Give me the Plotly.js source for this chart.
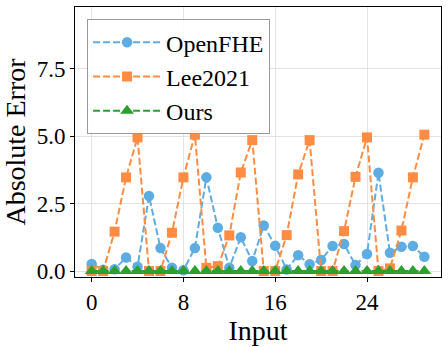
<!DOCTYPE html>
<html>
<head>
<meta charset="utf-8">
<script src="https://cdn.plot.ly/plotly-3.0.1.min.js"></script>
<style>html,body{margin:0;padding:0;background:#fff}#chart{width:448px;height:347px}</style>
</head>
<body>
<div id="chart"></div>
<script>
const inputs = [0,1,2,3,4,5,6,7,8,9,10,11,12,13,14,15,16,17,18,19,20,21,22,23,24,25,26,27,28,29];
const openfhe = [0.26,0.05,0.07,0.50,0.16,2.78,0.85,0.12,0.03,0.85,3.47,1.60,0.12,1.25,0.37,1.69,0.94,0.06,0.59,0.25,0.41,0.93,1.00,0.22,0.63,3.64,0.68,0.90,0.93,0.53];
const lee2021 = [0.0,0.0,1.46,3.47,4.95,0.0,0.0,1.42,3.47,5.05,0.12,0.18,1.32,3.65,4.85,0.0,0.0,1.33,3.58,4.85,0.0,0.0,1.48,3.49,4.95,0.0,0.10,1.50,3.47,5.05];
const ours = [0,0,0,0,0,0,0,0,0,0,0,0,0,0,0,0,0,0,0,0,0,0,0,0,0,0,0,0,0,0];
const seriesNames = ["OpenFHE","Lee2021","Ours"];
const xTicks = [0,8,16,24];
const yTicks = [0.0,2.5,5.0,7.5];
const yTickText = ["0.0","2.5","5.0","7.5"];

const colors = ["#5DADE2","#FF8C42","#2CA02C"];
const symbols = ["circle","square","triangle-up"];
const sizes = [10.5,10,12];
const data = [openfhe, lee2021, ours].map((ys, k) => ({
  x: inputs, y: ys, name: seriesNames[k], type: "scatter", mode: "lines+markers",
  line: {color: colors[k], width: 2, dash: "7px,3px"},
  marker: {color: colors[k], symbol: symbols[k], size: sizes[k]}
}));

const font = "'Liberation Serif', 'Times New Roman', serif";
const layout = {
  width: 448, height: 347,
  margin: {l: 75, r: 7, t: 7, b: 70},
  paper_bgcolor: "#fff", plot_bgcolor: "#fff",
  font: {family: font, color: "#000"},
  showlegend: true,
  legend: {
    x: 0.033, y: 0.955, xanchor: "left", yanchor: "top",
    itemwidth: 68,
    bgcolor: "rgba(255,255,255,0.85)", bordercolor: "#999", borderwidth: 1,
    font: {family: font, size: 24, color: "#000"}
  },
  xaxis: {
    range: [-1.45, 30.45], tickvals: xTicks, ticktext: xTicks.map(String),
    ticks: "outside", ticklen: 4, tickcolor: "#000",
    showline: true, linecolor: "#000", linewidth: 1, mirror: true,
    showgrid: true, gridcolor: "#e3e3e3", zeroline: false,
    tickfont: {family: font, size: 23, color: "#000"},
    title: {text: "Input", font: {family: font, size: 28, color: "#000"}, standoff: 0}
  },
  yaxis: {
    range: [-0.22, 9.78], tickvals: yTicks, ticktext: yTickText,
    ticks: "outside", ticklen: 4, tickcolor: "#000",
    showline: true, linecolor: "#000", linewidth: 1, mirror: true,
    showgrid: true, gridcolor: "#e3e3e3", zeroline: false,
    tickfont: {family: font, size: 23, color: "#000"},
    title: {text: "Absolute Error", font: {family: font, size: 28, color: "#000"}, standoff: 4}
  }
};
Plotly.newPlot("chart", data, layout, {displayModeBar: false, staticPlot: true});
</script>
</body>
</html>
